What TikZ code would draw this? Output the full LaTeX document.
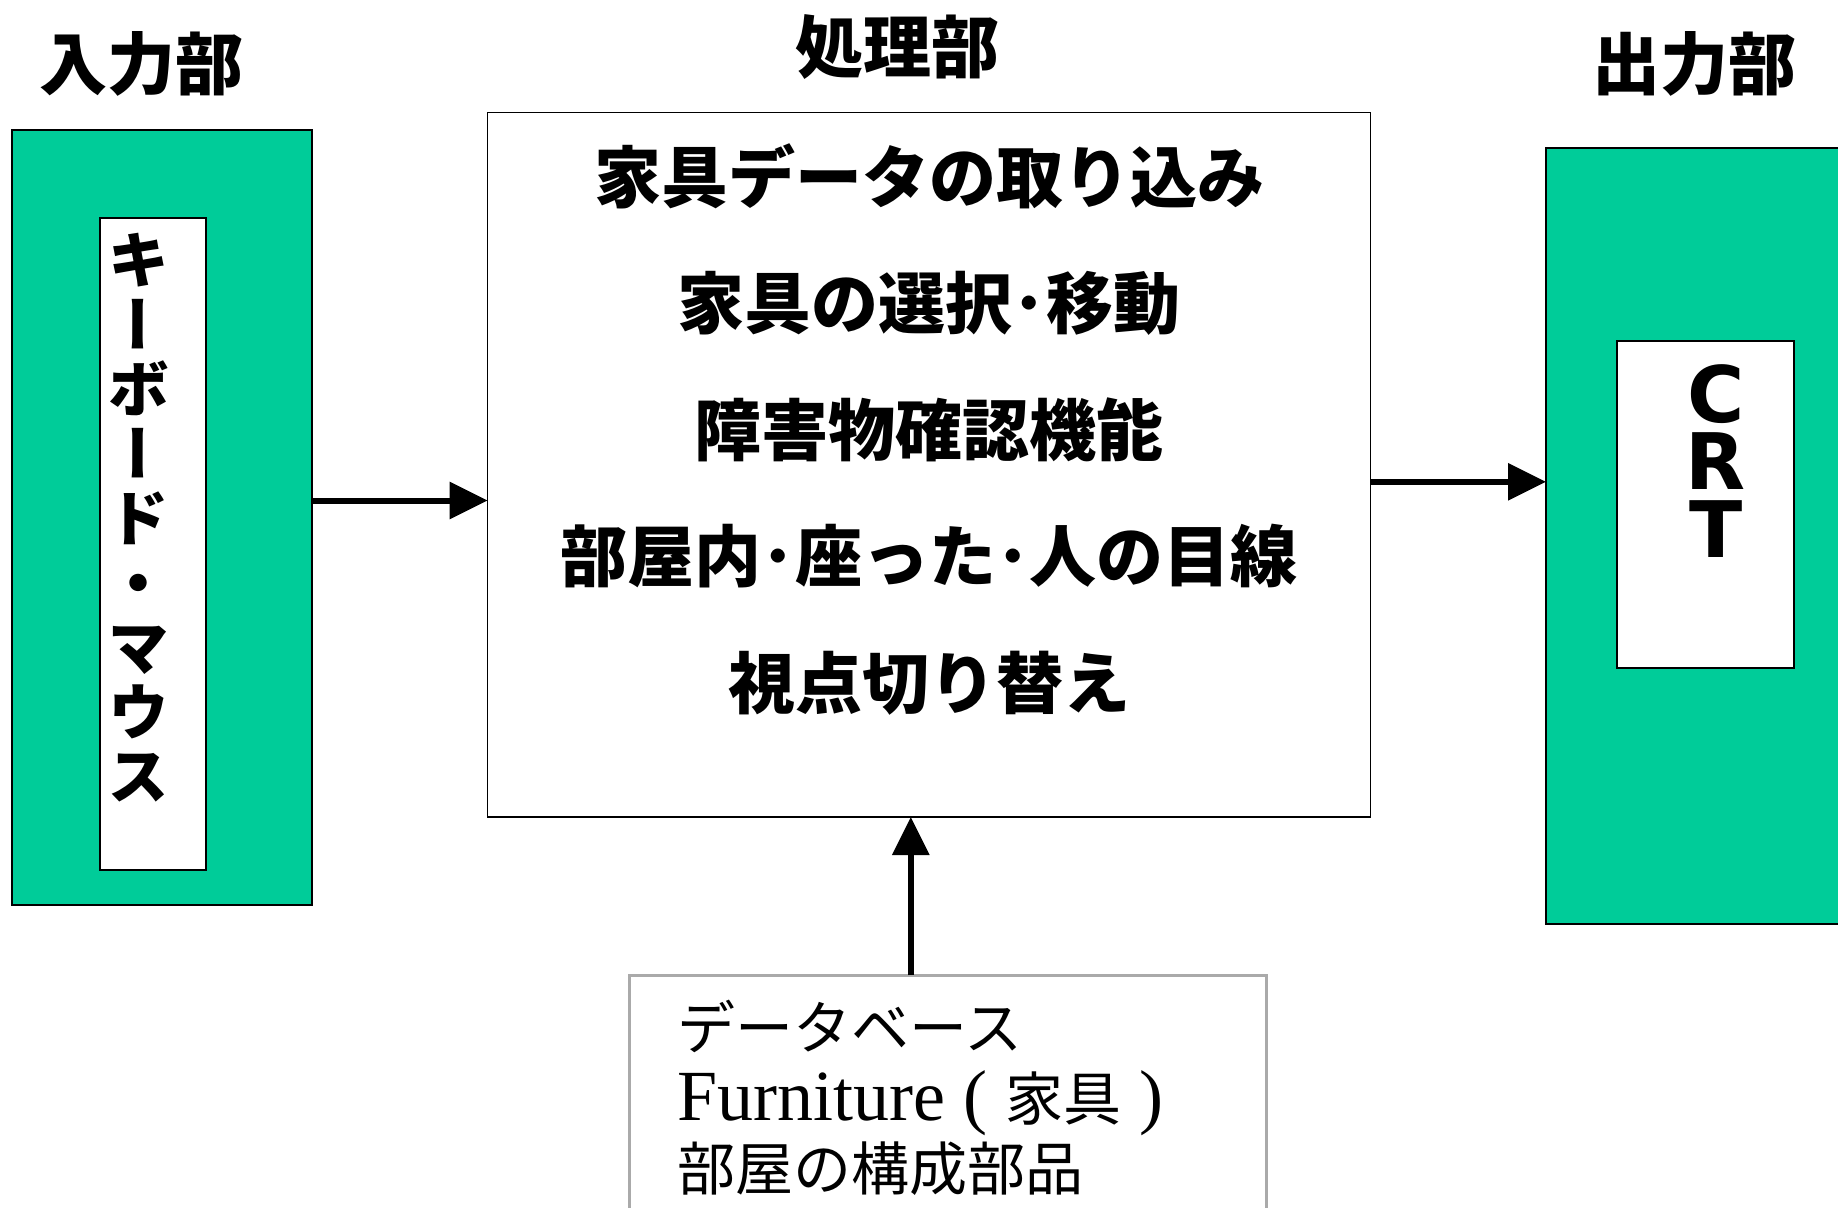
\documentclass[tikz,border=0pt]{standalone}
\usepackage{fontspec}
\setmainfont{Liberation Serif}
\newfontfamily\cjk{Noto Sans CJK JP}
\newfontfamily\cjkv[RawFeature=+vert]{Noto Sans CJK JP}
\newfontfamily\crtfont{DejaVu Sans}
\usetikzlibrary{arrows.meta}
\definecolor{boxgreen}{RGB}{0,204,153}
\definecolor{dbgray}{RGB}{170,170,170}
\tikzset{
  greenbox/.style={draw=black, line width=2pt, fill=boxgreen},
  whitebox/.style={draw=black, line width=2pt, fill=white},
  mainbox/.style={draw=black, line width=1.5pt, fill=white},
  dbbox/.style={draw=dbgray, line width=3pt, fill=white},
  title/.style={font=\cjk\bfseries\fontsize{68}{68}\selectfont, inner sep=0pt},
  crtletter/.style={font=\crtfont\bfseries\fontsize{78}{78}\selectfont, inner sep=0pt},
  flow/.style={line width=6pt, -{Triangle[length=38pt,width=36pt]}},
}
\begin{document}
\begin{tikzpicture}[x=1pt,y=-1pt]
\useasboundingbox (0,0) rectangle (1838,1207);
% titles
\node[title] (tin) at (141,64) {入力部};
\node[title] (tproc) at (897,47) {処理部};
\node[title] (tout) at (1694,64) {出力部};
% input
\draw[greenbox] (11.7,130) rectangle (311.8,905);
\coordinate (inR) at (311.8,500.5);
\draw[whitebox] (99.6,218) rectangle (206.3,870);
\node[font=\cjkv\bfseries\fontsize{62}{64.5}\selectfont, align=center, inner sep=0pt] (kbd) at (138,518)
  {キ\\ー\\ボ\\ー\\ド\\・\\マ\\ウ\\ス};
% process
\draw[mainbox] (487.6,112.5) rectangle (1370.3,817);
\coordinate (procL) at (487.6,500.5);
\coordinate (procR) at (1370.3,481.8);
\coordinate (procB) at (910.8,817);
\node[font=\cjk\bfseries\fontsize{67}{126.5}\selectfont, align=center, inner sep=0pt] (proc) at (929,429)
  {家具データの取り込み\\家具の選択･移動\\障害物確認機能\\部屋内･座った･人の目線\\視点切り替え};
% output
\draw[greenbox] (1546,147.7) rectangle (1850,923.6);
\coordinate (outL) at (1546,481.8);
\draw[whitebox] (1616.5,341) rectangle (1793.5,668);
\node[crtletter, anchor=north] (crtC) at (1716,364) {C};
\node[crtletter, anchor=north] (crtR) at (1716,432) {R};
\node[crtletter, anchor=north] (crtT) at (1716,500) {T};
% database
\draw[dbbox] (629.5,975.3) rectangle (1266,1230);
\coordinate (dbT) at (910.8,975.3);
\node[font=\fontsize{58}{70.5}\selectfont, align=left, inner sep=0pt, anchor=west] (db) at (677.5,1098)
  {{\cjk データベース}\\{\fontsize{72}{70.5}\selectfont Furniture ( {\cjk\fontsize{58}{70.5}\selectfont 家具} )}\\{\cjk 部屋の構成部品}};
% connectors
\draw[flow] (inR) -- (procL);
\draw[flow] (procR) -- (outL);
\draw[flow] (dbT) -- (procB);
\end{tikzpicture}
\end{document}
